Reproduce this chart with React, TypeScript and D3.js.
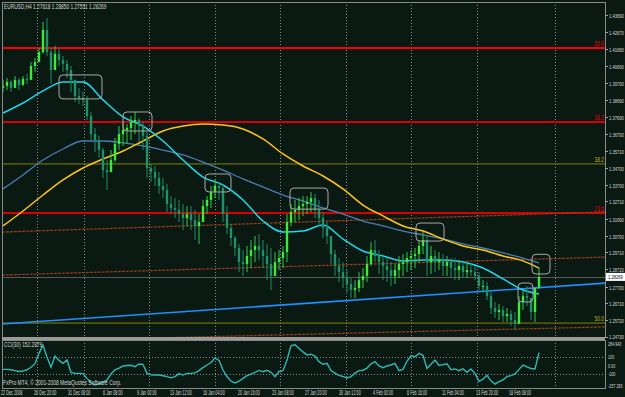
import React from 'react';
import * as d3 from 'd3';

// H4 bars (every other bar)
const highs = [
  1.3987, 1.3998, 1.3987, 1.4010, 1.3998, 1.4010, 1.4022, 1.4092, 1.4116, 1.4175,
  1.4328, 1.4352, 1.4175, 1.4187, 1.4175, 1.4128, 1.4104, 1.4069, 1.3987, 1.3940,
  1.3916, 1.3892, 1.3798, 1.3704, 1.3657, 1.3586, 1.3515, 1.3574, 1.3645, 1.3715,
  1.3739, 1.3727, 1.3774, 1.3798, 1.3763, 1.3739, 1.3680, 1.3492, 1.3480, 1.3444,
  1.3409, 1.3374, 1.3303, 1.3291, 1.3280, 1.3256, 1.3244, 1.3244, 1.3221, 1.3197,
  1.3280, 1.3303, 1.3362, 1.3398, 1.3386, 1.3374, 1.3244, 1.3138, 1.3068, 1.3020,
  1.2985, 1.3009, 1.3044, 1.3068, 1.3079, 1.3044, 1.3020, 1.2997, 1.2973, 1.2985,
  1.3009, 1.3197, 1.3256, 1.3280, 1.3291, 1.3303, 1.3303, 1.3327, 1.3315, 1.3280,
  1.3209, 1.3150, 1.3044, 1.2985, 1.2938, 1.2914, 1.2867, 1.2820, 1.2808, 1.2855,
  1.2879, 1.2950, 1.3032, 1.3044, 1.2985, 1.2961, 1.2938, 1.2914, 1.2903, 1.2950,
  1.2961, 1.2973, 1.2985, 1.2997, 1.3044, 1.3091, 1.3068, 1.3009, 1.2985, 1.2973,
  1.2961, 1.2950, 1.2938, 1.2938, 1.2926, 1.2914, 1.2903, 1.2903, 1.2891, 1.2855,
  1.2808, 1.2797, 1.2738, 1.2679, 1.2667, 1.2655, 1.2644, 1.2632, 1.2620, 1.2714,
  1.2750, 1.2773, 1.2691, 1.2691, 1.2885,
];
const lows = [
  1.3916, 1.3928, 1.3916, 1.3940, 1.3928, 1.3952, 1.3963, 1.3987, 1.4034, 1.4092,
  1.4140, 1.4128, 1.3963, 1.4069, 1.4069, 1.4034, 1.3998, 1.3916, 1.3857, 1.3845,
  1.3833, 1.3751, 1.3633, 1.3562, 1.3527, 1.3409, 1.3339, 1.3444, 1.3503, 1.3574,
  1.3598, 1.3610, 1.3633, 1.3668, 1.3621, 1.3574, 1.3409, 1.3386, 1.3362, 1.3315,
  1.3291, 1.3209, 1.3197, 1.3173, 1.3150, 1.3103, 1.3126, 1.3103, 1.3044, 1.3020,
  1.3150, 1.3197, 1.3232, 1.3291, 1.3280, 1.3150, 1.3079, 1.3009, 1.2950, 1.2855,
  1.2832, 1.2855, 1.2879, 1.2914, 1.2926, 1.2879, 1.2808, 1.2750, 1.2844, 1.2867,
  1.2879, 1.2914, 1.3126, 1.3150, 1.3162, 1.3185, 1.3197, 1.3209, 1.3173, 1.3126,
  1.3056, 1.3020, 1.2903, 1.2832, 1.2797, 1.2761, 1.2738, 1.2703, 1.2703, 1.2738,
  1.2761, 1.2797, 1.2891, 1.2914, 1.2844, 1.2808, 1.2797, 1.2773, 1.2785, 1.2820,
  1.2832, 1.2855, 1.2867, 1.2879, 1.2914, 1.2961, 1.2832, 1.2844, 1.2855, 1.2867,
  1.2832, 1.2832, 1.2820, 1.2808, 1.2808, 1.2820, 1.2820, 1.2832, 1.2808, 1.2750,
  1.2738, 1.2691, 1.2608, 1.2585, 1.2573, 1.2561, 1.2561, 1.2538, 1.2514, 1.2585,
  1.2632, 1.2655, 1.2573, 1.2561, 1.2755,
];
const closes = [
  1.3952, 1.3975, 1.3940, 1.3987, 1.3957, 1.3993, 1.3987, 1.4069, 1.4092, 1.4151,
  1.4281, 1.4151, 1.4045, 1.4140, 1.4104, 1.4081, 1.4045, 1.3987, 1.3892, 1.3881,
  1.3869, 1.3774, 1.3668, 1.3633, 1.3574, 1.3456, 1.3444, 1.3515, 1.3610, 1.3668,
  1.3692, 1.3704, 1.3739, 1.3751, 1.3715, 1.3657, 1.3468, 1.3444, 1.3409, 1.3362,
  1.3339, 1.3256, 1.3232, 1.3221, 1.3197, 1.3173, 1.3197, 1.3162, 1.3126, 1.3150,
  1.3244, 1.3280, 1.3327, 1.3362, 1.3350, 1.3197, 1.3115, 1.3056, 1.2997, 1.2914,
  1.2903, 1.2950, 1.2985, 1.3009, 1.2985, 1.2950, 1.2903, 1.2832, 1.2914, 1.2938,
  1.2973, 1.3150, 1.3209, 1.3221, 1.3244, 1.3256, 1.3268, 1.3291, 1.3221, 1.3173,
  1.3115, 1.3068, 1.2961, 1.2891, 1.2855, 1.2820, 1.2785, 1.2750, 1.2761, 1.2808,
  1.2832, 1.2903, 1.2985, 1.2950, 1.2914, 1.2891, 1.2867, 1.2832, 1.2867, 1.2903,
  1.2914, 1.2938, 1.2950, 1.2961, 1.3009, 1.3044, 1.2914, 1.2950, 1.2914, 1.2926,
  1.2891, 1.2914, 1.2879, 1.2867, 1.2891, 1.2855, 1.2867, 1.2855, 1.2832, 1.2773,
  1.2773, 1.2714, 1.2644, 1.2620, 1.2632, 1.2596, 1.2608, 1.2573, 1.2550, 1.2679,
  1.2714, 1.2703, 1.2620, 1.2762, 1.2827,
];
const firstOpen = 1.3940;

// moving averages, sampled at these bars
const maBars = [0, 5, 10, 15, 20, 25, 30, 35, 40, 45, 50, 55, 60, 65, 70, 75, 80, 85, 90, 95, 100, 105, 110, 115, 120, 125, 130, 134];
const maFast = [1.3792, 1.3851, 1.3922, 1.3975, 1.3975, 1.3869, 1.3769, 1.3715, 1.3627, 1.3515, 1.3415, 1.3368, 1.3280, 1.3156, 1.3091, 1.3097, 1.3133, 1.3050, 1.2979, 1.2950, 1.2921, 1.2926, 1.2926, 1.2914, 1.2879, 1.2815, 1.2750, 1.2726];
const maMid = [1.3345, 1.3427, 1.3515, 1.3580, 1.3627, 1.3627, 1.3616, 1.3598, 1.3574, 1.3545, 1.3503, 1.3456, 1.3404, 1.3357, 1.3309, 1.3274, 1.3233, 1.3197, 1.3156, 1.3127, 1.3097, 1.3074, 1.3050, 1.3021, 1.2997, 1.2968, 1.2938, 1.2909];
const maSlow = [1.3127, 1.3215, 1.3309, 1.3398, 1.3468, 1.3521, 1.3568, 1.3627, 1.3686, 1.3715, 1.3727, 1.3721, 1.3698, 1.3639, 1.3551, 1.3480, 1.3421, 1.3345, 1.3250, 1.3186, 1.3127, 1.3097, 1.3050, 1.3009, 1.2985, 1.2950, 1.2921, 1.2879];

const cci = [
  -45, -45, -50, -60, -70, -65, -50, -20, 22, 143,
  240, 100, -20, 112, 60, 26, 65, -80, -92, -92,
  -95, -151, -200, -229, -215, -195, -170, -100, -50, -30,
  -6, 0, 3, -14, 18, 14, -92, -108, -112, -112,
  -120, -131, -145, -130, -95, -112, -92, -92, -86, -60,
  -25, 6, 35, 90, 60, -53, -130, -185, -205, -185,
  -151, -120, -100, -80, -58, -73, -57, -80, -131, -70,
  -60, 65, 235, 245, 202, 160, 125, 133, 112, 45,
  15, 26, -60, -90, -115, -131, -147, -130, -90, -60,
  -55, -30, 20, 45, -5, -25, -5, 6, 26, -60,
  -45, 50, 115, 104, 143, 120, -33, 15, 65, 0,
  10, 20, -50, -40, -60, -40, -80, -40, -92, -185,
  -160, -115, -180, -218, -190, -168, -131, -118, -100, -45,
  6, -15, -35, -40, 152.29,
];

const priceTicks = ['1.43690', '1.42670', '1.41680', '1.40690', '1.39700', '1.38690', '1.37690', '1.36700', '1.35710', '1.34700', '1.33700', '1.32710', '1.31690', '1.30700', '1.29710', '1.28720', '1.27700', '1.26710', '1.25720', '1.24730'];
const cciTicks = ['284.943', '100', '0.00', '-100', '-257.283'];
const cciLevels = [100, -100];
const dateLabels = ['22 Dec 2008', '26 Dec 20:00', '31 Dec 08:00', '6 Jan 08:00', '9 Jan 00:00', '13 Jan 12:00', '16 Jan 04:00', '20 Jan 16:00', '23 Jan 08:00', '27 Jan 20:00', '30 Jan 12:00', '4 Feb 00:00', '6 Feb 16:00', '11 Feb 04:00', '13 Feb 20:00', '18 Feb 08:00'];
const dateBars = [-0.75, 7.75, 16.25, 25, 33.5, 41.75, 50, 58.75, 67.25, 75.5, 84, 92.5, 101, 109.75, 118.25, 126.5];
const gridBars = [8.5, 20.25, 36.5, 53, 69.25, 85.75, 102, 118.5, 138];

// fibo levels
const redFibLabels = ['50.0', '38.2', '23.6'];
const redFibPrices = [1.4175, 1.3739, 1.3203];
const oliveFibLabels = ['38.2', '50.0'];
const oliveFibPrices = [1.3492, 1.2555];
const bidPrice = 1.28269;

// trend lines: [bar, price] pairs
const blueLine = [[0, 1.2550], [134, 1.2764]];
const brownLines = [
  [[0, 1.3091], [134, 1.3197]],
  [[0, 1.2838], [134, 1.2932]],
  [[0, 1.2445], [134, 1.2523]],
];
// rounded boxes around highs: bar from, bar to, top, bottom
const boxes = [
  [14, 24.75, 1.4016, 1.3875],
  [30, 37.25, 1.3798, 1.3686],
  [50.5, 57, 1.3433, 1.3327],
  [71.75, 81.25, 1.3350, 1.3226],
  [103.25, 110.25, 1.3144, 1.3038],
  [128.75, 132.5, 1.2791, 1.2679],
  [132.25, 136.75, 1.2960, 1.2844],
];

const W = 625, H = 397;
const L = 2, R = 605, T = 2, MB = 338, CT = 340, CB = 388;
const BG = '#0a1a13';
const FONT = 'Liberation Sans, Arial, sans-serif';
const TXT = '#d8d8d8';

// narrow terminal-like text: squeeze horizontally
const Small = ({ x, y, sx, fill = TXT, size = 6.5, anchor, dy, children }: any) => (
  <text transform={`translate(${x},${y}) scale(${sx},1)`} fontSize={size} fill={fill} textAnchor={anchor} dy={dy}>
    {children}
  </text>
);

export default function App() {
  const x = d3.scaleLinear().domain([0, 134]).range([3, 539]);
  const y = d3.scaleLinear().domain([1.2473, 1.4369]).range([337, 15]);
  const yc = d3.scaleLinear().domain([-257.283, 284.943]).range([387.4, 341.3]);

  const maLine = (vals: number[]) =>
    d3.line<number>().x((_, i) => x(maBars[i])).y(d => y(d)).curve(d3.curveMonotoneX)(vals) || '';
  const cciPath = d3.line<number>().x((_, i) => x(i)).y(d => yc(d))(cci) || '';

  const xr = x.invert(R);
  const xl = x.invert(L);
  const extend = (seg: number[][]) => {
    const [[b0, p0], [b1, p1]] = seg;
    const k = (p1 - p0) / (b1 - b0);
    return { x1: x(xl), y1: y(p0 + k * (xl - b0)), x2: x(xr), y2: y(p0 + k * (xr - b0)) };
  };

  const bw = 2.4;

  return (
    <>
      <style>{`body{margin:0;background:${BG}}`}</style>
      <svg width={W} height={H} style={{ display: 'block', background: BG }} fontFamily={FONT}>
        <defs>
          <clipPath id="main"><rect x={L} y={T} width={R - L} height={MB - T} /></clipPath>
          <clipPath id="sub"><rect x={L} y={CT} width={R - L} height={CB - CT} /></clipPath>
        </defs>

        {/* vertical grid */}
        {gridBars.map((g, i) => (
          <g key={'g' + i} stroke="#8c8c8c" strokeWidth={1} strokeDasharray="1,2">
            <line x1={Math.round(x(g)) + 0.5} x2={Math.round(x(g)) + 0.5} y1={T} y2={MB} />
            <line x1={Math.round(x(g)) + 0.5} x2={Math.round(x(g)) + 0.5} y1={CT} y2={CB} />
          </g>
        ))}

        <g clipPath="url(#main)">
          {/* horizontal fib levels */}
          {redFibPrices.map((p, i) => (
            <line key={'rf' + i} x1={L} x2={R} y1={y(p)} y2={y(p)} stroke={i === 0 ? '#ff0000' : '#d80000'} strokeWidth={2} />
          ))}
          {oliveFibPrices.map((p, i) => (
            <line key={'of' + i} x1={L} x2={R} y1={y(p)} y2={y(p)} stroke="#858500" strokeWidth={1} />
          ))}
          <line x1={L} x2={R} y1={Math.round(y(bidPrice)) + 0.5} y2={Math.round(y(bidPrice)) + 0.5} stroke="#5a5a5a" strokeWidth={1} />

          {/* trend lines */}
          {brownLines.map((s, i) => {
            const e = extend(s);
            return <line key={'bl' + i} {...e} stroke="#9a3c1a" strokeWidth={1.2} strokeDasharray="3,1" />;
          })}
          <line {...extend(blueLine)} stroke="#1e90ff" strokeWidth={1.6} />

          {/* moving averages */}
          <path d={maLine(maMid)} fill="none" stroke="#4a7db3" strokeWidth={1.3} />
          <path d={maLine(maSlow)} fill="none" stroke="#ffc412" strokeWidth={1.5} />
          <path d={maLine(maFast)} fill="none" stroke="#1fd6ea" strokeWidth={1.5} />

          {/* candles */}
          {closes.map((c, i) => {
            const o = i === 0 ? firstOpen : closes[i - 1];
            const up = c >= o;
            const col = up ? '#3ee83e' : '#22906a';
            const hi = Math.max(highs[i], o, c);
            const lo = Math.min(lows[i], o, c);
            const top = y(Math.max(o, c));
            const h = Math.max(1, Math.abs(y(o) - y(c)));
            return (
              <g key={'c' + i}>
                <line x1={x(i)} x2={x(i)} y1={y(hi)} y2={y(lo)} stroke={up ? '#2fc84a' : '#1f8a66'} strokeWidth={1} />
                <rect x={x(i) - bw / 2} y={top} width={bw} height={h} fill={col} />
              </g>
            );
          })}

          {/* boxes */}
          {boxes.map((b, i) => (
            <rect key={'bx' + i} x={x(b[0])} y={y(b[2])} width={x(b[1]) - x(b[0])} height={y(b[3]) - y(b[2])}
              rx={4} fill="none" stroke="#a8a8a8" strokeWidth={1} />
          ))}
        </g>

        {/* fib labels */}
        {redFibPrices.map((p, i) => (
          <Small key={'rl' + i} x={R - 1} y={y(p) - 2} sx={0.75} fill="#e00000" anchor="end">{redFibLabels[i]}</Small>
        ))}
        {oliveFibPrices.map((p, i) => (
          <Small key={'ol' + i} x={R - 1} y={y(p) - 2} sx={0.75} fill="#b8b800" anchor="end">{oliveFibLabels[i]}</Small>
        ))}

        {/* CCI panel */}
        {cciLevels.map((v, i) => (
          <line key={'cl' + i} x1={L} x2={R} y1={Math.round(yc(v)) + 0.5} y2={Math.round(yc(v)) + 0.5}
            stroke="#8c8c8c" strokeDasharray="1,2" />
        ))}
        <g clipPath="url(#sub)">
          <path d={cciPath} fill="none" stroke="#2fb8b2" strokeWidth={1.4} />
        </g>

        {/* frames */}
        <rect x={L + 0.5} y={T + 0.5} width={R - L} height={MB - T - 1} fill="none" stroke="#8a8a8a" />
        <rect x={L} y={MB - 1} width={R - L} height={3} fill="#9a9a9a" />
        <rect x={L + 0.5} y={CT + 0.5} width={R - L} height={CB - CT} fill="none" stroke="#8a8a8a" />

        {/* price axis */}
        {priceTicks.map((t, i) => {
          const ty = Math.round(y(parseFloat(t))) + 0.5;
          return (
            <g key={'pt' + i}>
              <line x1={R} x2={R + 3} y1={ty} y2={ty} stroke="#a0a0a0" />
              <Small x={R + 4} y={ty - (i === priceTicks.length - 1 ? 1 : 0)} dy="0.35em" size={6.2} sx={0.66}>{t}</Small>
            </g>
          );
        })}
        <rect x={R + 1} y={y(bidPrice) - 4} width={W - R - 1} height={8} fill="#ffffff" />
        <Small x={R + 3} y={y(bidPrice)} dy="0.35em" size={6.2} sx={0.66} fill="#000">{bidPrice.toFixed(5)}</Small>

        {/* CCI axis */}
        {cciTicks.map((t, i) => {
          const off = i === 0 ? 2.8 : i === cciTicks.length - 1 ? -1.5 : 0;
          return (
            <Small key={'ct' + i} x={R + 3} y={yc(parseFloat(t)) + off} dy="0.35em" size={6} sx={0.62}>{t}</Small>
          );
        })}

        {/* dates */}
        {dateLabels.map((d, i) => (
          <Small key={'d' + i} x={Math.max(1, x(dateBars[i]))} y={395} sx={0.58}>{d}</Small>
        ))}

        {/* titles */}
        <Small x={4} y={9} sx={0.74}>EURUSD,H4  1.27618 1.28850 1.27551 1.28269</Small>
        <Small x={4} y={347} sx={0.74}>CCI(30) 152.2879</Small>
        <Small x={3} y={385} sx={0.76}>FxPro MT4, © 2001-2008 MetaQuotes Software Corp.</Small>
      </svg>
    </>
  );
}
